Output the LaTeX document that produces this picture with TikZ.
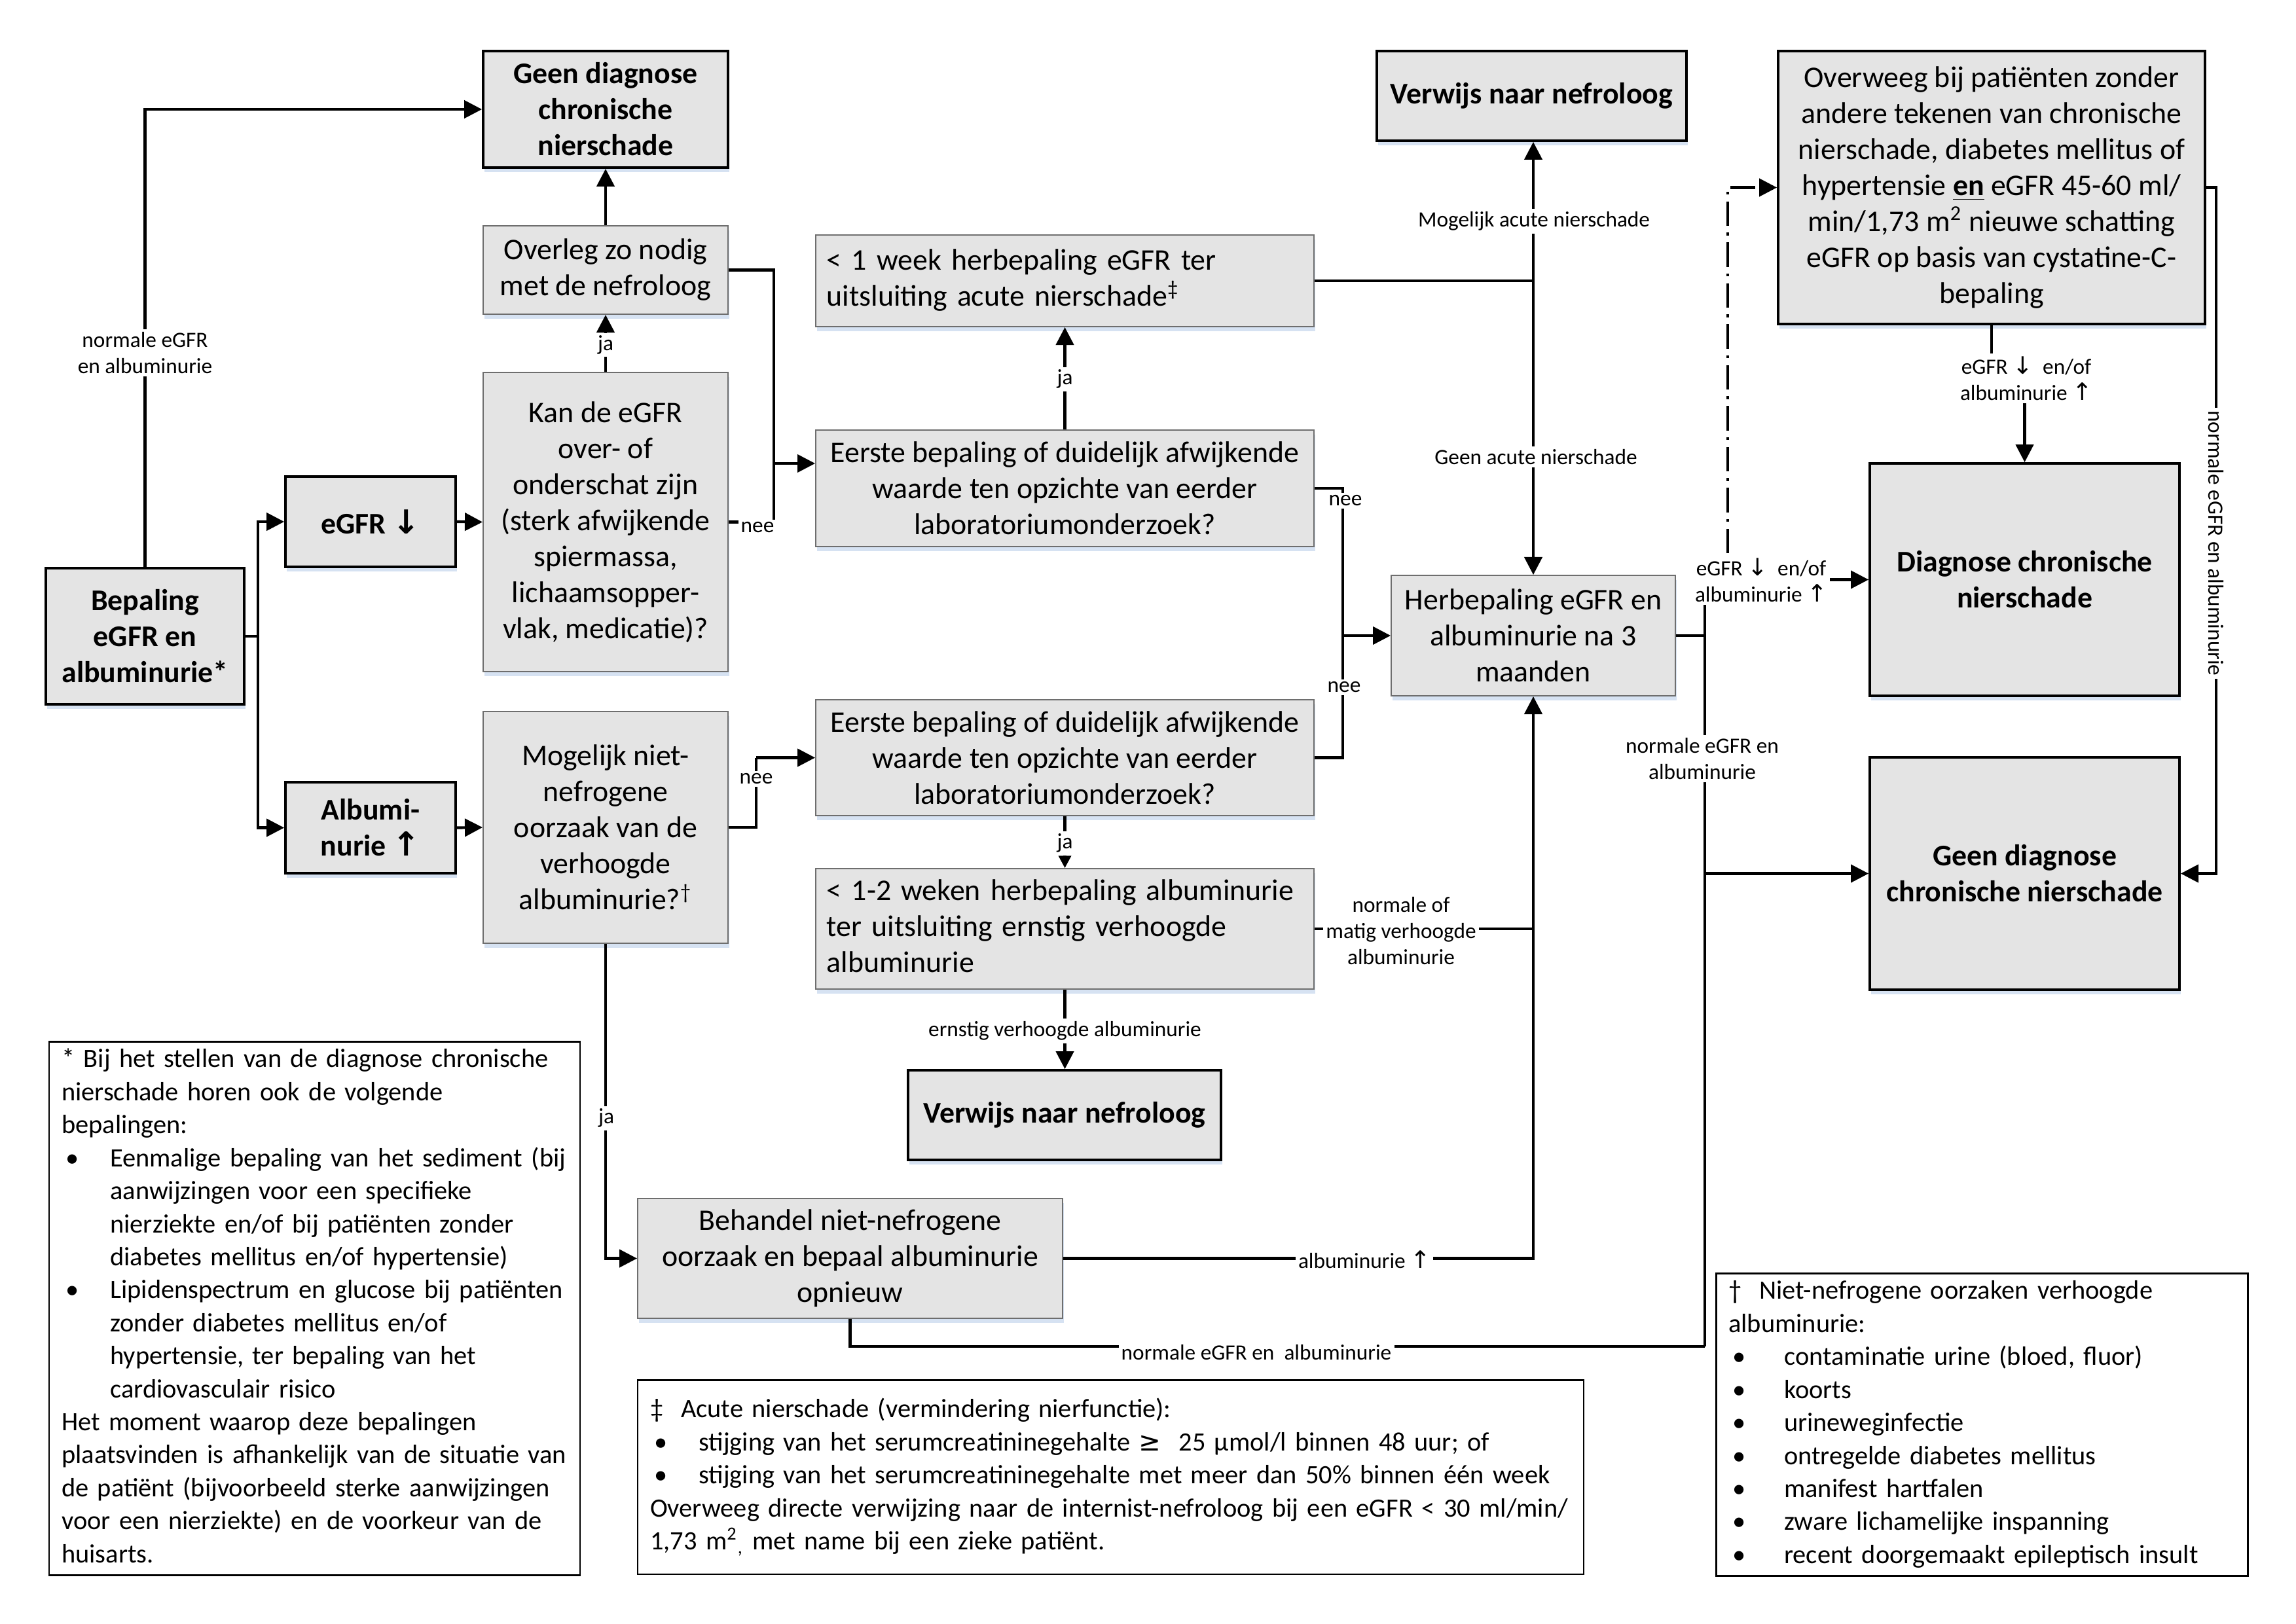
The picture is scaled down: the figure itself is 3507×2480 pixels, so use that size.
\documentclass[tikz,border=0pt]{standalone}
\usepackage{fontspec}
\setmainfont{Carlito}
\newfontfamily\symfont{DejaVu Sans}[Scale=1.1]
\usetikzlibrary{arrows.meta,shadows}
\definecolor{boxfill}{RGB}{228,228,228}
\definecolor{boxedge}{RGB}{110,110,110}
\definecolor{shadowblue}{RGB}{214,226,242}
\newcommand\mainsize{\fontsize{11}{13.2}\selectfont}
\newcommand\lblsize{\fontsize{8}{9.7}\selectfont}
\newcommand\fnsize{\fontsize{9.7}{12.1}\selectfont}
\newcommand\arrdn{{\symfont ↓}}
\newcommand\arrup{{\symfont ↑}}
\newcommand\tlines[1]{\begin{tabular}{@{}l@{}}#1\end{tabular}}
\newcommand\bulitem[1]{\makebox[#1][l]{\hspace{1.5pt}\textbullet}}
\begin{document}
\begin{tikzpicture}[x=0.24pt,y=-0.24pt,
  box/.style={draw=boxedge, line width=0.45pt, fill=boxfill, align=center, inner sep=2pt, font=\mainsize,
    drop shadow={shadow xshift=0.4pt, shadow yshift=-1.6pt, fill=shadowblue, opacity=1}},
  hbox/.style={box, draw=black, line width=0.9pt, font=\mainsize\bfseries},
  fnbox/.style={draw=black, line width=0.7pt, fill=white, font=\fnsize, align=left, inner xsep=4.6pt, inner ysep=1pt},
  conn/.style={line width=1pt},
  conna/.style={conn, -{Triangle[length=6.5pt,width=6.5pt]}},
  smalltip/.style={-{Triangle[length=4.5pt,width=4.5pt]}},
  ddash/.style={dash pattern=on 9pt off 2.5pt on 1pt off 2.5pt},
  lbl/.style={fill=white, inner sep=1pt, font=\lblsize, align=center}]
\useasboundingbox (0,0) rectangle (3507,2480);
\fill[white] (0,0) rectangle (3507,2480);

% boxes
\node[hbox, minimum width=72.72pt, minimum height=49.92pt] (bep) at (221.5,972) {Bepaling\\eGFR en\\albuminurie*};
\node[hbox, minimum width=89.76pt, minimum height=42.72pt] (gd1) at (925,167) {Geen diagnose\\chronische\\nierschade};
\node[box, minimum width=89.76pt, minimum height=32.4pt] (ovl) at (925,412.5) {Overleg zo nodig\\met de nefroloog};
\node[box, minimum width=89.76pt, minimum height=109.68pt] (kan) at (925,797.5) {Kan de eGFR\\over- of\\onderschat zijn\\(sterk afwijkende\\spiermassa,\\lichaamsopper-\\vlak, medicatie)?};
\node[hbox, minimum width=62.4pt, minimum height=33.12pt] (egfr) at (566,797) {eGFR \arrdn};
\node[hbox, minimum width=62.4pt, minimum height=33.36pt] (alb) at (566,1264.5) {Albumi-\\nurie \arrup};
\node[box, minimum width=89.76pt, minimum height=84.96pt] (mog) at (925,1264) {Mogelijk niet-\\nefrogene\\oorzaak van de\\verhoogde\\albuminurie?\textsuperscript{†}};
\node[box, minimum width=182.64pt, minimum height=33.6pt, text width=174.64pt, align=left, inner xsep=4pt] (wk1) at (1626.5,429) {\tlines{< 1 week herbepaling eGFR ter\\uitsluiting acute nierschade\textsuperscript{‡}}};
\node[box, minimum width=182.64pt, minimum height=42.72pt] (eb1) at (1626.5,746) {Eerste bepaling of duidelijk afwijkende\\waarde ten opzichte van eerder\\laboratoriumonderzoek?};
\node[box, minimum width=182.64pt, minimum height=42.48pt] (eb2) at (1626.5,1157.5) {Eerste bepaling of duidelijk afwijkende\\waarde ten opzichte van eerder\\laboratoriumonderzoek?};
\node[box, minimum width=182.64pt, minimum height=44.16pt, text width=174.64pt, align=left, inner xsep=4pt] (wk2) at (1626.5,1419) {\tlines{< 1-2 weken herbepaling albuminurie\\ter uitsluiting ernstig verhoogde\\albuminurie}};
\node[hbox, minimum width=114.72pt, minimum height=32.88pt] (vw2) at (1626,1703.5) {Verwijs naar nefroloog};
\node[box, minimum width=155.76pt, minimum height=43.92pt] (beh) at (1298.5,1922.5) {Behandel niet-nefrogene\\oorzaak en bepaal albuminurie\\opnieuw};
\node[hbox, minimum width=113.52pt, minimum height=32.88pt] (vw1) at (2339.5,146.5) {Verwijs naar nefroloog};
\node[box, minimum width=104.16pt, minimum height=44.16pt] (herb) at (2342,971) {Herbepaling eGFR en\\albuminurie na 3\\maanden};
\node[hbox, font=\mainsize, minimum width=156.48pt, minimum height=100.08pt] (ovw) at (3042,286.5) {Overweeg bij patiënten zonder\\andere tekenen van chronische\\nierschade, diabetes mellitus of\\hypertensie \underline{\textbf{en}} eGFR 45-60 ml/\\min/1,73 m\textsuperscript{2} nieuwe schatting\\eGFR op basis van cystatine-C-\\bepaling};
\node[hbox, minimum width=113.52pt, minimum height=85.2pt] (diag) at (3092.5,885.5) {Diagnose chronische\\nierschade};
\node[hbox, minimum width=113.52pt, minimum height=85.2pt] (gd2) at (3092.5,1334.5) {Geen diagnose\\chronische nierschade};

% footnotes
\node[fnbox, text width=185.44pt, minimum height=194.88pt] (fn1) at (480.5,1999) {\tlines{%
* Bij het stellen van de diagnose chronische\\
nierschade horen ook de volgende\\
bepalingen:\\
\bulitem{17.8pt}Eenmalige bepaling van het sediment (bij\\
\hspace*{17.8pt}aanwijzingen voor een specifieke\\
\hspace*{17.8pt}nierziekte en/of bij patiënten zonder\\
\hspace*{17.8pt}diabetes mellitus en/of hypertensie)\\
\bulitem{17.8pt}Lipidenspectrum en glucose bij patiënten\\
\hspace*{17.8pt}zonder diabetes mellitus en/of\\
\hspace*{17.8pt}hypertensie, ter bepaling van het\\
\hspace*{17.8pt}cardiovasculair risico\\
Het moment waarop deze bepalingen\\
plaatsvinden is afhankelijk van de situatie van\\
de patiënt (bijvoorbeeld sterke aanwijzingen\\
voor een nierziekte) en de voorkeur van de\\
huisarts.}};
\node[fnbox, text width=337.6pt, minimum height=71.28pt] (fn2) at (1696.5,2256.5) {\tlines{%
‡\ \ Acute nierschade (vermindering nierfunctie):\\
\bulitem{17.8pt}stijging van het serumcreatininegehalte {\symfont\fontsize{8.8}{10}\selectfont ≥}\ \ 25 µmol/l binnen 48 uur; of\\
\bulitem{17.8pt}stijging van het serumcreatininegehalte met meer dan 50\% binnen één week\\
Overweeg directe verwijzing naar de internist-nefroloog bij een eGFR < 30 ml/min/\\
1,73 m\textsuperscript{2}\textsubscript{,} met name bij een zieke patiënt.}};
\node[fnbox, text width=185.68pt, minimum height=109.68pt] (fn3) at (3027,2176.5) {\tlines{%
†\ \ Niet-nefrogene oorzaken verhoogde\\
albuminurie:\\
\bulitem{20.4pt}contaminatie urine (bloed, fluor)\\
\bulitem{20.4pt}koorts\\
\bulitem{20.4pt}urineweginfectie\\
\bulitem{20.4pt}ontregelde diabetes mellitus\\
\bulitem{20.4pt}manifest hartfalen\\
\bulitem{20.4pt}zware lichamelijke inspanning\\
\bulitem{20.4pt}recent doorgemaakt epileptisch insult}};

% connectors
\draw[conna] (bep.north) |- (gd1.west);
\coordinate (j1) at (394,972);
\draw[conn] (bep.east) -- (j1);
\draw[conna] (j1) |- (egfr.west);
\draw[conna] (j1) |- (alb.west);
\draw[conna] (egfr.east) -- (kan.west);
\draw[conna] (alb.east) -- (mog.west);
\draw[conna] (kan.north) -- (ovl.south);
\draw[conna] (ovl.north) -- (gd1.south);
\coordinate (j2t) at (1182,412.5);
\coordinate (j2b) at (1182,797.5);
\coordinate (j2) at (1182,708);
\draw[conn] (ovl.east) -- (j2t) -- (j2b) -- (kan.east);
\draw[conna] (j2) -- (eb1.west |- j2);
\draw[conna] (eb1.north) -- (wk1.south);
\coordinate (j3) at (2342,429);
\draw[conn] (wk1.east) -- (j3);
\draw[conna] (j3) -- (j3 |- vw1.south);
\draw[conna] (j3) -- (herb.north);
\coordinate (j4t) at (2051,746);
\coordinate (j4b) at (2051,1157.5);
\coordinate (j4) at (2051,971);
\draw[conn] (eb1.east) -- (j4t) -- (j4b) -- (eb2.east);
\draw[conna] (j4) -- (herb.west);
\coordinate (j5t) at (1155,1157.5);
\coordinate (j5b) at (1155,1264);
\draw[conn] (mog.east) -- (j5b) -- (j5t);
\draw[conna] (j5t) -- (eb2.west);
\draw[conn, smalltip] (eb2.south) -- (wk2.north);
\draw[conna] (wk2.south) -- (wk2.south |- vw2.north);
\coordinate (j6) at (2342,1922.5);
\draw[conna] (beh.east) -- (j6) -- (herb.south);
\draw[conn] (wk2.east) -- (wk2.east -| j6);
\draw[conna] (mog.south) |- (beh.west);
\coordinate (j7) at (2604,971);
\coordinate (j7t) at (2604,885.5);
\coordinate (j7b) at (2604,2057);
\draw[conn] (herb.east) -- (j7);
\draw[conna] (j7) -- (j7t) -- (diag.west);
\draw[conn] (j7) -- (j7b);
\draw[conn] (beh.south) |- (j7b);
\draw[conna] (j7 |- gd2.west) -- (gd2.west);
\coordinate (dd) at (2639,845);
\draw[conna, ddash] (dd) |- (ovw.west);
\coordinate (jo) at (3067,577);
\draw[conna] (ovw.south) |- (jo) -| (diag.north);
\coordinate (jr) at (3385,1334.5);
\draw[conna] (ovw.east) -| (jr) -- (gd2.east);

% labels
\node[lbl] at (221.5,539) {normale eGFR\\en albuminurie};
\node[lbl] at (925,527) {ja};
\node[lbl] at (1157,806) {nee};
\node[lbl] at (1626.5,579) {ja};
\node[lbl] at (2343,338) {Mogelijk acute nierschade};
\node[lbl] at (2346,698) {Geen acute nierschade};
\node[lbl] at (2055,765) {nee};
\node[lbl] at (2053,1050) {nee};
\node[lbl] at (1155,1190) {nee};
\node[lbl] at (1626.5,1288) {ja};
\node[lbl] at (1626.5,1575) {ernstig verhoogde albuminurie};
\node[lbl] at (2140,1422) {normale of\\matig verhoogde\\albuminurie};
\node[lbl] at (2084,1924) {albuminurie \arrup};
\node[lbl] at (926,1708) {ja};
\node[lbl] at (2690,886) {eGFR \arrdn\ \ en/of\\albuminurie \arrup};
\node[lbl] at (2600,1159) {normale eGFR en\\albuminurie};
\node[lbl] at (1919,2066) {normale eGFR en\ \ albuminurie};
\node[lbl] at (3095,578) {eGFR \arrdn\ \ en/of\\albuminurie \arrup};
\node[lbl, rotate=-90] at (3385,830) {normale eGFR en albuminurie};
\end{tikzpicture}
\end{document}
